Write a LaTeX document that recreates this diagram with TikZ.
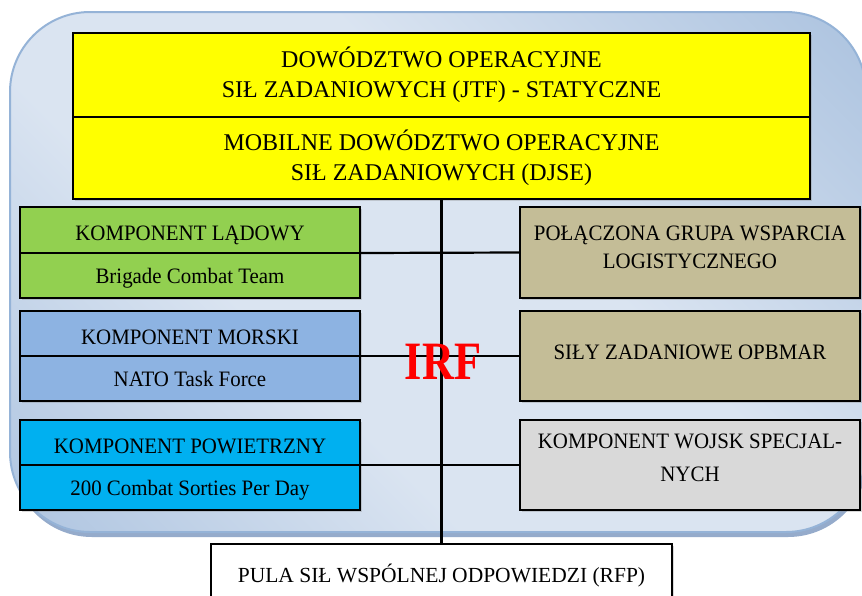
\documentclass[tikz,border=0pt]{standalone}
\usepackage{fontspec}
\setmainfont{Liberation Serif}
\newfontfamily\condfont[FakeStretch=0.95]{Liberation Serif}
\usetikzlibrary{shadows}

\definecolor{panelLight}{HTML}{DAE4F1}
\definecolor{panelDark}{HTML}{93B1D6}
\definecolor{panelEdge}{HTML}{95B3D7}
\definecolor{panelShade}{HTML}{7A96BE}
\definecolor{cmdYellow}{HTML}{FFFF00}
\definecolor{landGreen}{HTML}{92D050}
\definecolor{seaBlue}{HTML}{8DB3E2}
\definecolor{airCyan}{HTML}{00B0F0}
\definecolor{logTan}{HTML}{C4BD97}
\definecolor{sofGrey}{HTML}{D9D9D9}
\definecolor{irfRed}{HTML}{FF0000}

% light band across the middle, darker towards two opposite corners
\pgfdeclarehorizontalshading{panelband}{100bp}{%
  color(0bp)=(panelDark); color(38bp)=(panelLight);
  color(58bp)=(panelLight); color(100bp)=(panelDark)}

\tikzset{
  cell/.style={draw=black, line width=1.8pt, rectangle, inner sep=0pt,
    outer sep=0pt, anchor=north west, align=center,
    drop shadow={shadow xshift=1.5pt, shadow yshift=-1.5pt, opacity=.3}},
  cmdcell/.style={cell, fill=cmdYellow, minimum width=737pt,
    font=\fontsize{24}{30}\selectfont},
  unitcell/.style={cell, minimum width=340pt,
    font=\condfont\fontsize{22}{28}\selectfont},
  headtext/.style={text height=21pt, text depth=0pt},
  subtext/.style={text height=15pt, text depth=0pt},
  conn/.style={draw=black, line width=2.2pt}
}

\begin{document}
\begin{tikzpicture}[x=1pt, y=-1pt]
\useasboundingbox (0,0) rectangle (862,595);
\clip (0,0) rectangle (862,595);

% rounded background panel with its shadow
\fill[panelShade, opacity=.8, rounded corners=80pt] (12,17) rectangle (868,537);
\path[draw=panelEdge, line width=2pt, rounded corners=80pt,
  shading=panelband, shading angle=45]
  (10,12) rectangle (866,532);

% command headquarters
\node[cmdcell, minimum height=84pt] (jtf) at (73,33)
  {DOWÓDZTWO OPERACYJNE\\SIŁ ZADANIOWYCH (JTF) - STATYCZNE};
\node[cmdcell, minimum height=82pt] (djse) at (73,117)
  {MOBILNE DOWÓDZTWO OPERACYJNE\\SIŁ ZADANIOWYCH (DJSE)};

% response force pool
\node[cell, fill=white, minimum width=461pt, minimum height=64pt,
  font=\fontsize{21.5}{26}\selectfont] (rfp) at (211,544)
  {PULA SIŁ WSPÓLNEJ ODPOWIEDZI (RFP)};

% connectors
\draw[conn] (djse.south) -- (rfp.north);

% left column: components
\node[unitcell, headtext, fill=landGreen, minimum height=46pt] (landTop) at (20,207) {KOMPONENT LĄDOWY};
\node[unitcell, subtext, fill=landGreen, minimum height=45pt] (landBot) at (20,253) {Brigade Combat Team};
\node[unitcell, headtext, fill=seaBlue, minimum height=45pt] (seaTop) at (20,311) {KOMPONENT MORSKI};
\node[unitcell, subtext, fill=seaBlue, minimum height=45pt] (seaBot) at (20,356) {NATO Task Force};
\node[unitcell, headtext, fill=airCyan, minimum height=45pt] (airTop) at (20,420) {KOMPONENT POWIETRZNY};
\node[unitcell, subtext, fill=airCyan, minimum height=45pt] (airBot) at (20,465) {200 Combat Sorties Per Day};

% right column
\node[unitcell, fill=logTan, minimum height=91pt, text depth=11pt] (logi) at (520,207)
  {POŁĄCZONA GRUPA WSPARCIA\\LOGISTYCZNEGO};
\node[unitcell, fill=logTan, minimum height=90pt, text height=15pt, text depth=8pt] (opb) at (520,311)
  {SIŁY ZADANIOWE OPBMAR};
\node[unitcell, fill=sofGrey, minimum height=90pt, text depth=14pt] (sof) at (520,420)
  {KOMPONENT WOJSK SPECJAL-\\[5pt]NYCH};

% horizontal links
\draw[conn] (landTop.south east) -- (logi.west);
\draw[conn] (seaTop.south east) -- (opb.west);
\draw[conn] (airTop.south east) -- (sof.west);

% immediate response force label
\node[text=irfRed, font=\bfseries\fontsize{54}{54}\selectfont, inner sep=0pt]
  (irf) at (443,362) {\scalebox{0.82}[1]{IRF}};
\end{tikzpicture}
\end{document}
